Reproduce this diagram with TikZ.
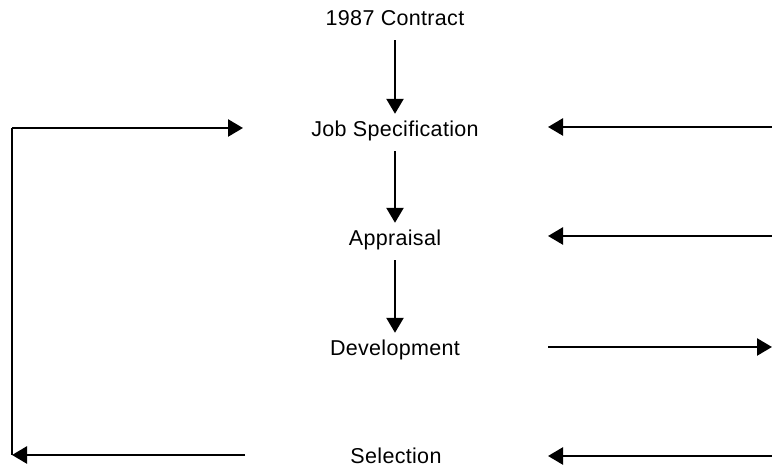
\documentclass[tikz,border=0pt]{standalone}
\usepackage{fontspec}
\setmainfont{Liberation Sans}[LetterSpace=1.5]
\usetikzlibrary{arrows.meta}
\begin{document}
\begin{tikzpicture}[x=1pt,y=1pt,
  stage/.style={inner sep=0pt, anchor=base, text height=15pt, text depth=4pt,
    font=\fontsize{21.5}{24}\selectfont},
  flow/.style={line width=2.5pt, -{Triangle[length=15pt,width=17pt]}},
  down/.style={flow, shorten <=10pt, shorten >=8pt},
  plain/.style={line width=2.5pt}]
\useasboundingbox (0,0) rectangle (772,468);

% stages of the cycle
\node[stage] (contract) at (395,442) {1987 Contract};
\node[stage] (jobspec)  at (395,331) {Job Specification};
\node[stage] (apprais)  at (395,222) {Appraisal};
\node[stage] (develop)  at (395,112) {Development};
\node[stage] (select)   at (396,4)   {Selection};

% main downward sequence
\draw[down] (contract.south) -- (jobspec.north);
\draw[down] (jobspec.south) -- (apprais.north);
\draw[down] (apprais.south) -- (develop.north);

% feedback loop from Selection back to Job Specification
\coordinate (selL)  at (245,13);
\coordinate (cornB) at (12,13);
\coordinate (cornT) at (12,340);
\coordinate (jsL)   at (243,340);
\draw[flow] (selL) -- (cornB);
\draw[plain] (cornB) -- (cornT);
\draw[flow] (cornT) -- (jsL);

% links at the right edge
\coordinate (jsRo) at (772,341);
\coordinate (jsRi) at (548,341);
\coordinate (apRo) at (772,232);
\coordinate (apRi) at (548,232);
\coordinate (dvRi) at (548,121);
\coordinate (dvRo) at (772,121);
\coordinate (slRo) at (772,12);
\coordinate (slRi) at (548,12);
\draw[flow] (jsRo) -- (jsRi);
\draw[flow] (apRo) -- (apRi);
\draw[flow] (dvRi) -- (dvRo);
\draw[flow] (slRo) -- (slRi);
\end{tikzpicture}
\end{document}
